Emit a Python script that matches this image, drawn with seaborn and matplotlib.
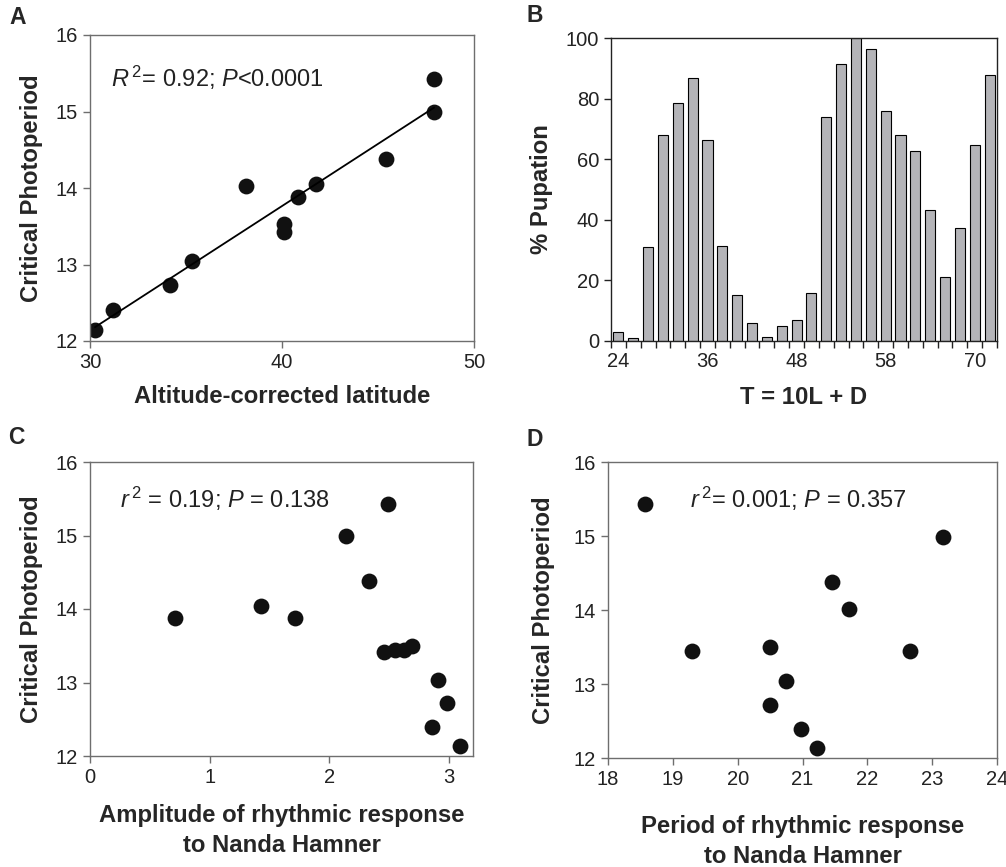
import matplotlib
matplotlib.use("Agg")
import matplotlib.pyplot as plt
import numpy as np
import pandas as pd
import seaborn as sns

# Panel A: latitude vs critical photoperiod
lat = [30.26, 31.18, 34.16, 35.29, 38.12, 40.10, 40.10, 40.81, 41.76, 45.44, 47.92, 47.92]
cp_a = [12.15, 12.40, 12.73, 13.04, 14.02, 13.53, 13.43, 13.88, 14.05, 14.38, 15.00, 15.43]

# Panel B: % pupation per T-cycle
T_cycle = [24, 26, 28, 30, 32, 34, 36, 38, 40, 42, 44, 46, 48,
           50, 52, 54, 55, 56, 58, 60, 62, 64, 66, 68, 70, 72]
pupation = [2.9, 1.0, 30.9, 67.9, 78.7, 86.9, 66.2, 31.2, 15.3, 6.1, 1.4, 5.0, 6.8,
            15.7, 73.9, 91.5, 100.0, 96.4, 76.0, 68.1, 62.8, 43.3, 21.1, 37.4, 64.6, 87.7]
T_shown = ["24", "36", "48", "58", "70"]

# Panel C: amplitude vs critical photoperiod
amp = [0.71, 1.43, 1.71, 2.14, 2.33, 2.49, 2.46, 2.55, 2.62, 2.69, 2.91, 2.98, 2.86, 3.09]
cp_c = [13.88, 14.04, 13.88, 15.00, 14.38, 15.43, 13.41, 13.44, 13.44, 13.50, 13.04, 12.72, 12.39, 12.14]

# Panel D: period vs critical photoperiod
period = [18.57, 19.29, 20.50, 20.74, 20.50, 20.98, 21.23, 21.46, 21.71, 22.66, 23.16]
cp_d = [15.43, 13.44, 13.50, 13.04, 12.72, 12.39, 12.13, 14.38, 14.01, 13.44, 14.99]

sns.set_style("ticks")
plt.rcParams["font.family"] = ["Liberation Sans", "DejaVu Sans"]
plt.rcParams["mathtext.fontset"] = "custom"
plt.rcParams["mathtext.rm"] = "Liberation Sans"
plt.rcParams["mathtext.it"] = "Liberation Sans:italic"

W, H = 1006, 867
fig = plt.figure(figsize=(W / 100, H / 100), dpi=100)


def box(l, t, r, b):
    return [l / W, 1 - b / H, (r - l) / W, (b - t) / H]


TICK_FS = 14.5
LAB_FS = 17.2
ANN_FS = 17
spine_col = "#6e6e6e"
dot_col = "#111111"


def style_axes(ax, col=spine_col):
    for s in ax.spines.values():
        s.set_color(col)
        s.set_linewidth(1.0)
    ax.tick_params(axis="both", labelsize=TICK_FS, colors=col, labelcolor="#222222",
                   length=5, width=1.0, direction="out")


# ---- A ----
axA = fig.add_axes(box(90, 35, 474, 341))
sns.regplot(x=lat, y=cp_a, ax=axA, ci=None,
            scatter_kws=dict(s=130, color=dot_col, alpha=1, linewidths=0),
            line_kws=dict(color="black", lw=1.3))
axA.set_xlim(30, 50)
axA.set_ylim(12, 16)
axA.set_xticks([30, 40, 50])
axA.set_yticks([12, 13, 14, 15, 16])
style_axes(axA)
axA.set_xlabel("Altitude-corrected latitude", fontsize=LAB_FS, fontweight="bold")
axA.set_ylabel("Critical Photoperiod", fontsize=LAB_FS, fontweight="bold")
axA.xaxis.set_label_coords(0.5, -0.145)
axA.yaxis.set_label_coords(-0.122, 0.5)
axA.text(0.055, 0.86, r"$\it{R}^{\,2}$= 0.92; $\it{P}$<0.0001", transform=axA.transAxes,
         fontsize=ANN_FS, va="center", ha="left", color="#222222")

# ---- B ----
axB = fig.add_axes(box(611, 38, 997, 341))
dfB = pd.DataFrame({"T": [str(t) for t in T_cycle], "pct": pupation})
sns.barplot(data=dfB, x="T", y="pct", ax=axB, color="#b4b4b8", saturation=1,
            edgecolor="black", linewidth=0.8, width=0.68)
axB.set_xlim(-0.5, len(T_cycle) - 0.5)
axB.set_ylim(0, 100)
axB.set_yticks([0, 20, 40, 60, 80, 100])
style_axes(axB, col="#222222")
tick_pos = [dfB["T"].tolist().index(t) for t in T_shown]
axB.set_xticks(tick_pos)
axB.set_xticklabels(T_shown)
axB.tick_params(axis="x", which="major", length=0, pad=8)
axB.set_xticks(np.arange(-0.5, len(T_cycle)), minor=True)
axB.tick_params(axis="x", which="minor", length=5, width=1.0, color="#222222")
axB.set_xlabel("T = 10L + D", fontsize=LAB_FS, fontweight="bold")
axB.set_ylabel("% Pupation", fontsize=LAB_FS, fontweight="bold")
axB.xaxis.set_label_coords(0.5, -0.15)
axB.yaxis.set_label_coords(-0.15, 0.5)

# ---- C ----
axC = fig.add_axes(box(90, 462, 473, 756))
sns.scatterplot(x=amp, y=cp_c, ax=axC, s=130, color=dot_col, linewidth=0)
axC.set_xlim(0, 3.2)
axC.set_ylim(12, 16)
axC.set_xticks([0, 1, 2, 3])
axC.set_yticks([12, 13, 14, 15, 16])
style_axes(axC)
axC.set_xlabel("Amplitude of rhythmic response\nto Nanda Hamner", fontsize=LAB_FS,
               fontweight="bold", linespacing=1.4)
axC.set_ylabel("Critical Photoperiod", fontsize=LAB_FS, fontweight="bold")
axC.xaxis.set_label_coords(0.5, -0.163)
axC.yaxis.set_label_coords(-0.123, 0.5)
axC.text(0.078, 0.874, r"$\it{r}^{\,2}$ = 0.19; $\it{P}$ = 0.138", transform=axC.transAxes,
         fontsize=ANN_FS, va="center", ha="left", color="#222222")

# ---- D ----
axD = fig.add_axes(box(608, 462, 997, 758))
sns.scatterplot(x=period, y=cp_d, ax=axD, s=130, color=dot_col, linewidth=0)
axD.set_xlim(18, 24)
axD.set_ylim(12, 16)
axD.set_xticks([18, 19, 20, 21, 22, 23, 24])
axD.set_yticks([12, 13, 14, 15, 16])
style_axes(axD)
axD.set_xlabel("Period of rhythmic response\nto Nanda Hamner", fontsize=LAB_FS,
               fontweight="bold", linespacing=1.4)
axD.set_ylabel("Critical Photoperiod", fontsize=LAB_FS, fontweight="bold")
axD.xaxis.set_label_coords(0.5, -0.193)
axD.yaxis.set_label_coords(-0.136, 0.5)
axD.text(0.211, 0.875, r"$\it{r}^{\,2}$= 0.001; $\it{P}$ = 0.357", transform=axD.transAxes,
         fontsize=ANN_FS, va="center", ha="left", color="#222222")

# panel letters
for lab, (px, py) in zip("ABCD", [(9, 17), (527, 15), (8, 438), (527, 439)]):
    fig.text(px / W, 1 - py / H, lab, fontsize=16.5, fontweight="bold", va="center", ha="left")

fig.savefig("out.png", dpi=100)
